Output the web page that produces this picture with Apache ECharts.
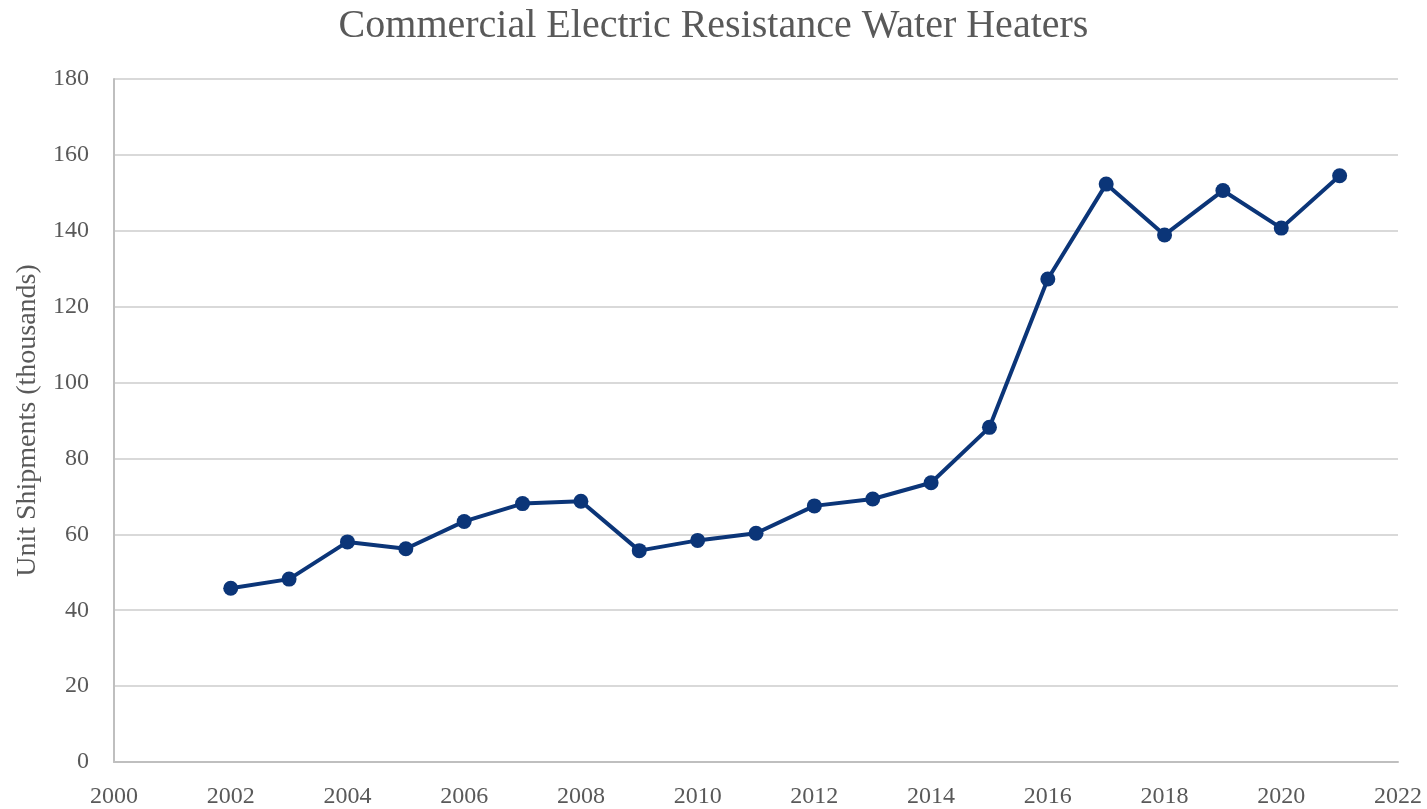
<!DOCTYPE html>
<html>
<head>
<meta charset="utf-8">
<script src="https://cdn.jsdelivr.net/npm/echarts@6/dist/echarts.min.js"></script>
<style>
  html, body { margin: 0; padding: 0; background: #ffffff; }
  #chart { width: 1427px; height: 809px; }
</style>
</head>
<body>
<div id="chart"></div>
<script>
// Annual unit shipments, thousands of units
const years = [2002, 2003, 2004, 2005, 2006, 2007, 2008, 2009, 2010, 2011,
               2012, 2013, 2014, 2015, 2016, 2017, 2018, 2019, 2020, 2021];
const shipments = [45.8, 48.2, 58.0, 56.2, 63.4, 68.1, 68.7, 55.7, 58.4, 60.3,
                   67.5, 69.3, 73.6, 88.2, 127.3, 152.3, 138.9, 150.6, 140.7, 154.5];

const titleText = 'Commercial Electric Resistance Water Heaters';
const yAxisName = 'Unit Shipments (thousands)';

const serif = '"Liberation Serif", "DejaVu Serif", serif';
const textColor = '#595959';
const lineColor = '#0b3578';

const chart = echarts.init(document.getElementById('chart'), null, { renderer: 'canvas' });

chart.setOption({
  animation: false,
  backgroundColor: '#ffffff',
  title: {
    text: titleText,
    left: 'center',
    top: 1,
    textStyle: { fontFamily: serif, fontSize: 40, fontWeight: 'normal', color: textColor }
  },
  grid: {
    left: 114, right: 29, top: 79, bottom: 47,
    containLabel: false,
    outerBoundsMode: 'none'
  },
  xAxis: {
    type: 'value',
    min: 2000,
    max: 2022,
    interval: 2,
    axisLine: { show: true, lineStyle: { color: '#bfbfbf', width: 2 } },
    axisTick: { show: false },
    splitLine: { show: false },
    axisLabel: {
      fontFamily: serif, fontSize: 24, color: textColor, margin: 23,
      formatter: v => String(v)
    }
  },
  yAxis: {
    type: 'value',
    min: 0,
    max: 180,
    interval: 20,
    name: yAxisName,
    nameLocation: 'middle',
    nameGap: 71,
    nameTextStyle: { fontFamily: serif, fontSize: 28, color: textColor },
    axisLine: { show: true, lineStyle: { color: '#bfbfbf', width: 2 } },
    axisTick: { show: false },
    splitLine: { show: true, lineStyle: { color: '#d9d9d9', width: 2 } },
    axisLabel: { fontFamily: serif, fontSize: 24, color: textColor, margin: 25 }
  },
  series: [{
    type: 'line',
    data: years.map((y, i) => [y, shipments[i]]),
    symbol: 'circle',
    symbolSize: 15,
    lineStyle: { color: lineColor, width: 4 },
    itemStyle: { color: lineColor },
    z: 3
  }]
});
</script>
</body>
</html>
